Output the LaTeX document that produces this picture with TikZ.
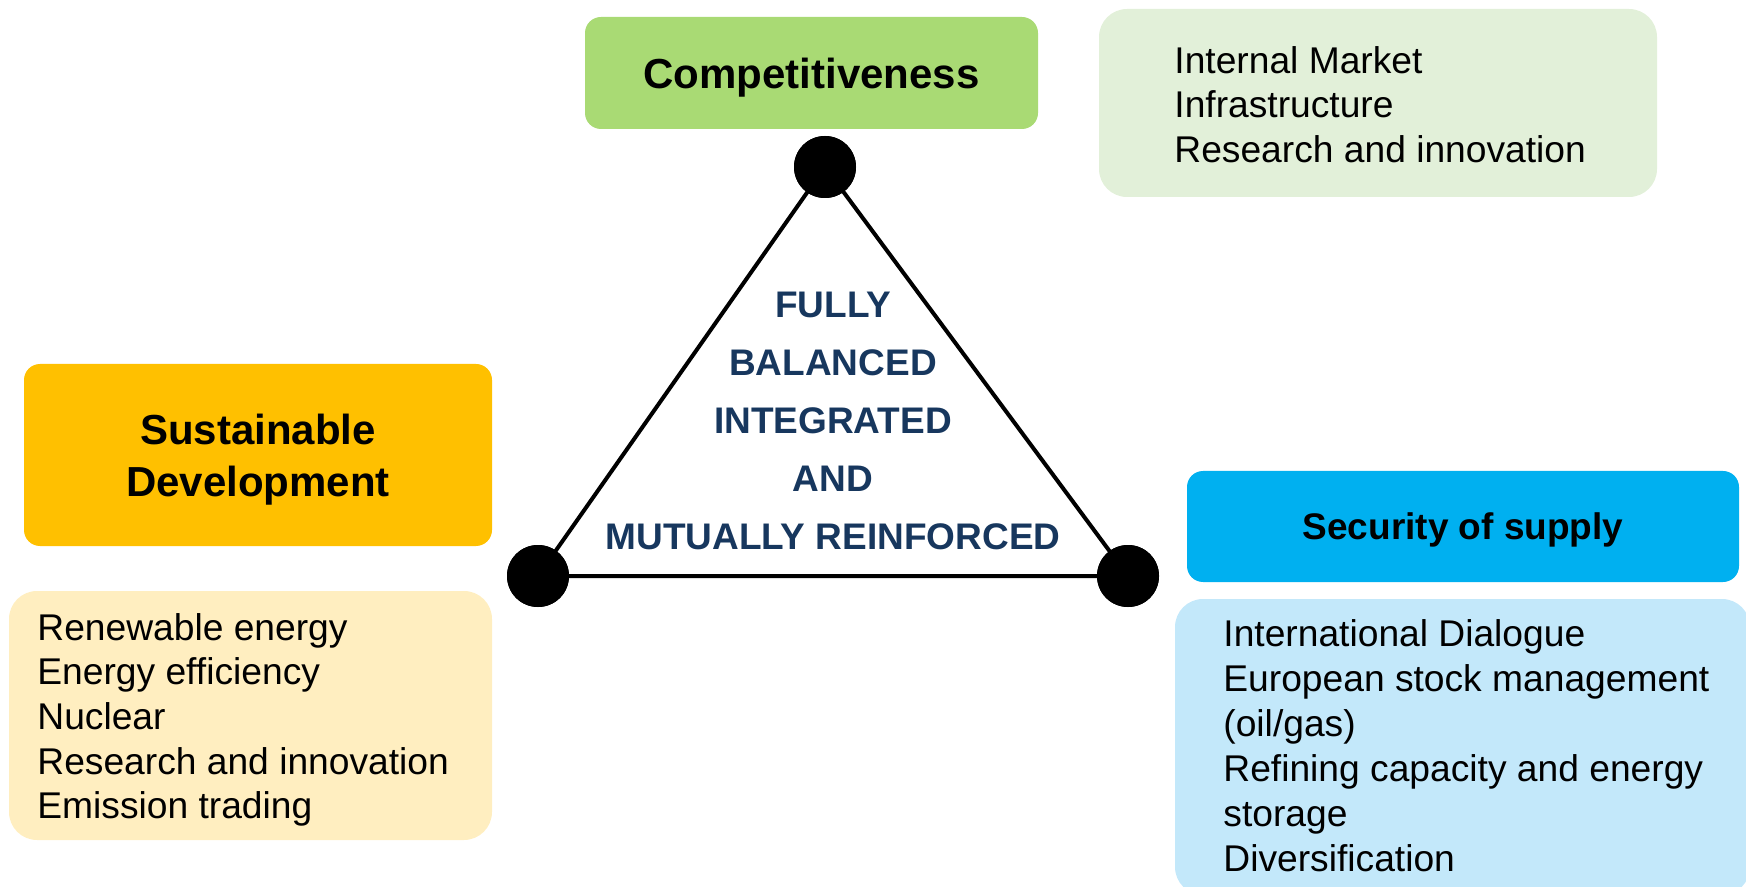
\documentclass[tikz,border=0pt]{standalone}
\usepackage{fontspec}
\setmainfont{Liberation Sans}
\definecolor{compgreen}{HTML}{A9DA74}
\definecolor{complight}{HTML}{E2F0D9}
\definecolor{sustorange}{HTML}{FFC000}
\definecolor{sustlight}{HTML}{FFEEC0}
\definecolor{secublue}{HTML}{00B0F0}
\definecolor{seculight}{HTML}{C3E8FA}
\definecolor{navy}{HTML}{17375E}

\begin{document}
\begin{tikzpicture}[x=0.5pt,y=-0.5pt,
	head/.style={rounded corners=8pt, inner sep=0pt, text depth=0pt, align=center, font=\bfseries\fontsize{21}{26}\selectfont},
	list/.style={rounded corners=14pt, inner sep=0pt},
	items/.style={anchor=north west, inner sep=0pt, align=left, font=\fontsize{18.6}{22.3}\selectfont},
	dot/.style={circle, fill=black, inner sep=0pt, minimum size=31pt}]
\useasboundingbox (0,0) rectangle (1746,887);
\clip (0,0) rectangle (1746,887);

\node[head, fill=compgreen, minimum width=226.5pt, minimum height=56pt] (comp) at (811.5,73) {Competitiveness};
\node[list, fill=complight, minimum width=279pt, minimum height=94pt] (complist) at (1378,103) {};
\node[items] (compitems) at (1174,46) {Internal Market\\Infrastructure\\Research and innovation};

\node[head, fill=sustorange, minimum width=234pt, minimum height=91pt] (sust) at (258,455) {Sustainable\\Development};
\node[list, fill=sustlight, minimum width=241.5pt, minimum height=124.5pt] (sustlist) at (250.5,715.5) {};
\node[items] (sustitems) at (37,613) {Renewable energy\\Energy efficiency\\Nuclear\\Research and innovation\\Emission trading};

\node[head, fill=secublue, minimum width=276pt, minimum height=55.5pt, font=\bfseries\fontsize{18.5}{22}\selectfont] (secu) at (1463,526.5) {Security of supply};
\node[list, fill=seculight, minimum width=287.5pt, minimum height=148pt] (seculist) at (1462.5,747) {};
\node[items, font=\fontsize{18.6}{22.5}\selectfont] (secuitems) at (1223,619) {International Dialogue\\European stock management\\(oil/gas)\\Refining capacity and energy\\storage\\Diversification};

\node[dot] (ctop) at (825,167) {};
\node[dot] (cleft) at (538,576) {};
\node[dot] (cright) at (1128,576) {};
\draw[line width=2pt] (ctop.center) -- (cleft.center) -- (cright.center) -- cycle;
\node[dot] at (ctop) {};
\node[dot] at (cleft) {};
\node[dot] at (cright) {};

\node[align=center, text=navy, font=\bfseries\fontsize{18.5}{29}\selectfont] (centre) at (833,421) {FULLY\\BALANCED\\INTEGRATED\\AND\\MUTUALLY REINFORCED};
\end{tikzpicture}
\end{document}
